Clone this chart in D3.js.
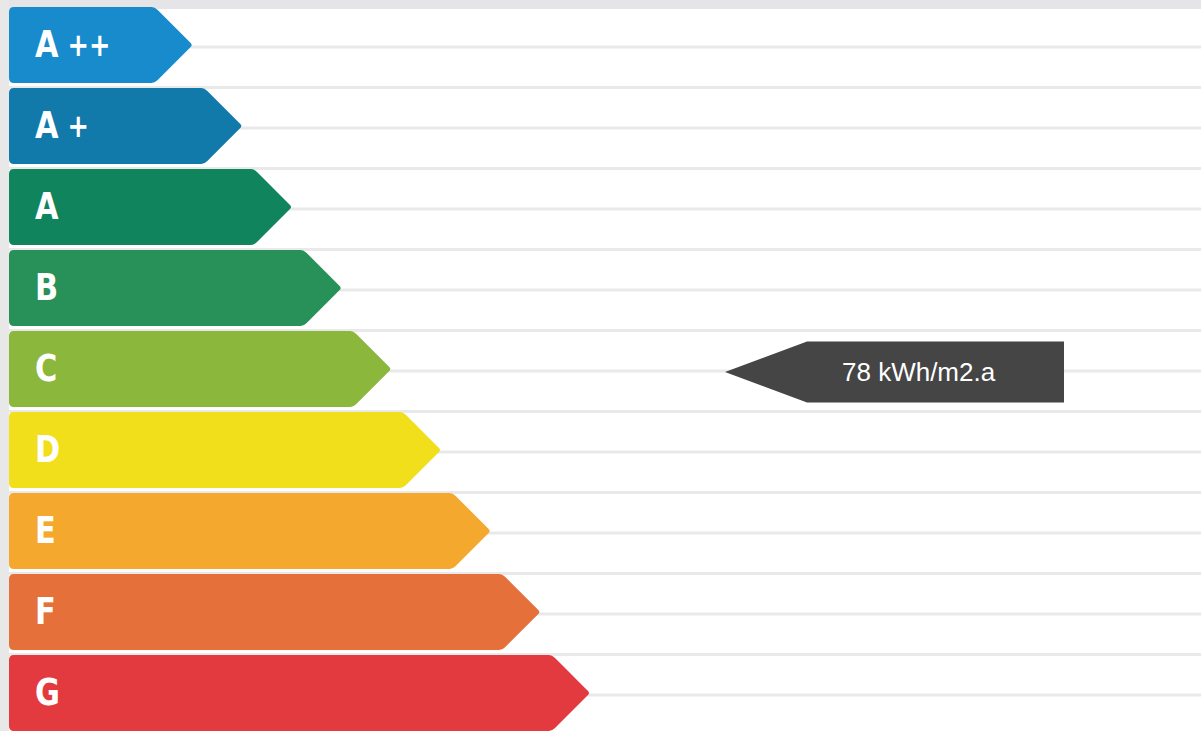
<!DOCTYPE html>
<meta charset="utf-8">
<html>
  <head>
    <script src="https://d3js.org/d3.v7.min.js"></script>
    <style>
      html, body { margin: 0; padding: 0; background: #fff; overflow: hidden; }
      svg { display: block; }
      .class_label { font-family: "DejaVu Sans", sans-serif; font-weight: bold; fill: #fff; }
      .rating_label { font-family: "Liberation Sans", Arial, sans-serif; fill: #fff; }
    </style>
  </head>
  <body>
  </body>
  <script>

// energy classes, best to worst
const classes = ['A ++', 'A +', 'A', 'B', 'C', 'D', 'E', 'F', 'G'],
      class_colours = ['#178bcc', '#1279ab', '#10845c', '#28915a', '#8cb73d', '#f1df1b', '#f5a82e', '#e5703a', '#e33a40'],
      class_steps = [1, 2, 3, 4, 5, 6, 7, 8, 9];   // arrow length in steps

// the building's rating
const rating_value = 78,
      rating_unit = 'kWh/m2.a',
      rating_class = 'C';

const width = 1201,
      height = 731,
      bar_left = 9,
      marker_tip = 725,
      marker_right = 1064;

const svg = d3.select('body')
  .append('svg')
  .attr('width', width)
  .attr('height', height);

const y = d3.scaleBand().domain(classes).range([7, 731]).paddingInner(0.062),
      x = d3.scaleLinear().domain([0, 9]).range([143, 590]),
      bw = y.bandwidth(),
      half_step = y.step() / 2;

// background: grey frame + ruled lines
svg.append('rect').attr('x', 0).attr('y', 0).attr('width', width).attr('height', 9).attr('fill', '#e5e5e7');
svg.append('rect').attr('x', 0).attr('y', 0).attr('width', bar_left).attr('height', height).attr('fill', '#e8e8e8');

const rules = [];
classes.forEach((c, i) => {
  rules.push(y(c) + bw / 2 + 2);
  if (i < classes.length - 1) rules.push(y(c) + bw / 2 + half_step + 2);
});

svg.append('g')
  .selectAll('line')
  .data(rules)
  .enter()
    .append('line')
      .attr('x1', bar_left)
      .attr('x2', width)
      .attr('y1', d => d)
      .attr('y2', d => d)
      .style('stroke', '#e9e9e9')
      .style('stroke-width', 3);

const bar_path = (c, i) => {
  const x0 = bar_left, y0 = y(c), y1 = y(c) + bw, ym = y0 + bw / 2,
        xt = x(class_steps[i]), xf = xt - bw / 2, r = 5;
  return `M${x0 + r},${y0} H${xf - 3} Q${xf},${y0} ${xf + 3},${y0 + 3}` +
         ` L${xt - 2},${ym - 2} Q${xt},${ym} ${xt - 2},${ym + 2}` +
         ` L${xf + 3},${y1 - 3} Q${xf},${y1} ${xf - 3},${y1} H${x0 + r}` +
         ` Q${x0},${y1} ${x0},${y1 - r} V${y0 + r} Q${x0},${y0} ${x0 + r},${y0} Z`;
};

const bars = svg.append('g')
  .selectAll('g')
  .data(classes)
  .enter()
    .append('g');

bars.append('path')
  .attr('d', bar_path)
  .attr('fill', (c, i) => class_colours[i]);

// labels squeezed horizontally to mimic the condensed face
const label = bars.append('text')
  .attr('class', 'class_label')
  .attr('transform', c => `translate(35,${y(c) + bw / 2 + 12}) scale(0.8,1)`)
  .style('font-size', '38px')
  .text(c => c.split(' ')[0]);

label.filter(c => c.includes(' '))
  .append('tspan')
  .style('font-size', '32px')
  .attr('dy', -1)
  .text(c => ' ' + c.split(' ')[1]);

// rating marker
const my = y(rating_class) + bw / 2 + 3,
      mh = 61,
      mflat = marker_tip + 82;

svg.append('path')
  .attr('d', `M${marker_tip},${my} L${mflat},${my - mh / 2} H${marker_right} V${my + mh / 2} H${mflat} Z`)
  .attr('fill', '#454545');

svg.append('text')
  .attr('class', 'rating_label')
  .attr('x', 842)
  .attr('y', my + 9)
  .style('font-size', '26px')
  .text(`${rating_value} ${rating_unit}`);

  </script>
</html>
